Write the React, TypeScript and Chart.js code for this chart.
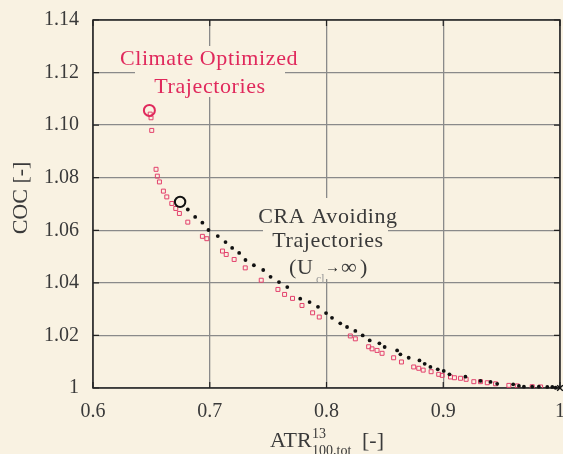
import React, { useEffect, useRef } from 'react';
import { Chart, registerables } from 'chart.js';

Chart.register(...registerables);

// ---------- data ----------
const xTickValues = [0.6, 0.7, 0.8, 0.9, 1];
const yTickValues = [1, 1.02, 1.04, 1.06, 1.08, 1.1, 1.12, 1.14];

// Climate optimized trajectories (red open squares)
const climateATR = [
  0.649, 0.6497, 0.6503, 0.654, 0.6551, 0.6569, 0.6603, 0.6632, 0.6675, 0.6709, 0.674,
  0.6812, 0.6937, 0.6975, 0.7109, 0.7141, 0.7209, 0.7304, 0.7441, 0.7584, 0.7641, 0.7709,
  0.779, 0.7881, 0.7938, 0.8204, 0.8247, 0.8361, 0.839, 0.8433, 0.8476, 0.8575, 0.8642,
  0.8747, 0.879, 0.8828, 0.8896, 0.8961, 0.8991, 0.9062, 0.9096, 0.9148, 0.9196, 0.9262,
  0.9319, 0.9377, 0.9448, 0.9562, 0.9634, 0.9762, 0.9834,
];
const climateCOC = [
  1.1042, 1.1028, 1.098, 1.0832, 1.0806, 1.0784, 1.0749, 1.0727, 1.0702, 1.0683, 1.0664,
  1.0631, 1.0577, 1.0568, 1.0521, 1.0508, 1.0489, 1.0457, 1.041, 1.0375, 1.0356, 1.0341,
  1.0314, 1.0286, 1.027, 1.0198, 1.0187, 1.0157, 1.0149, 1.0143, 1.0132, 1.0115, 1.0099,
  1.008, 1.0075, 1.0068, 1.0062, 1.0052, 1.0048, 1.0042, 1.0039, 1.0037, 1.0033, 1.0024,
  1.0024, 1.002, 1.0016, 1.001, 1.0008, 1.0005, 1.0004,
];

// CRA avoiding trajectories (black dots)
const craATR = [
  0.6812, 0.6875, 0.6937, 0.6989, 0.7069, 0.7135, 0.7192, 0.7252, 0.7306, 0.7378, 0.7458,
  0.7521, 0.7593, 0.7664, 0.7775, 0.7855, 0.7927, 0.7996, 0.8047, 0.8118, 0.8176, 0.8247,
  0.831, 0.837, 0.8453, 0.8498, 0.8605, 0.8633, 0.8704, 0.8796, 0.8841, 0.889, 0.8953,
  0.9004, 0.9053, 0.919, 0.9319, 0.9405, 0.9462, 0.9599, 0.9648, 0.9691, 0.9762, 0.9819,
  0.9891, 0.9934, 0.9962,
];
const craCOC = [
  1.0679, 1.0651, 1.0629, 1.0601, 1.0578, 1.0555, 1.0533, 1.0514, 1.0487, 1.0467, 1.0449,
  1.0423, 1.0403, 1.0384, 1.034, 1.0327, 1.0309, 1.0285, 1.0267, 1.0246, 1.0232, 1.0217,
  1.02, 1.0181, 1.017, 1.0156, 1.0143, 1.0128, 1.0115, 1.0105, 1.0092, 1.008, 1.0071,
  1.0065, 1.0052, 1.0043, 1.0027, 1.0023, 1.0016, 1.0014, 1.0008, 1.0005, 1.0005, 1.0005,
  1.0004, 1.0004, 1.0001,
];

const climateOptATR = [0.6483];
const climateOptCOC = [1.1056];
const craStartATR = [0.6746];
const craStartCOC = [1.0708];
const referenceATR = [1];
const referenceCOC = [1];

// ---------- styles ----------
const BG = '#f9f2e2';
const RED = '#e0295c';
const RED_PT = '#e3406c';
const GRID = '#8a8a8a';
const TEXT = '#3a3a3a';
const SERIF = '"Liberation Serif", "DejaVu Serif", serif';

const toPoints = (xs: number[], ys: number[]) => xs.map((x, i) => ({ x, y: ys[i] }));

const fmtX = (v: number) => (Math.abs(v - 1) < 1e-9 ? '1' : Number(v).toFixed(1));
const fmtY = (v: number) => (Math.abs(v - 1) < 1e-9 ? '1' : Number(v).toFixed(2));

const bgPlugin = {
  id: 'bgFill',
  beforeDraw(chart: any) {
    const { ctx, width, height } = chart;
    ctx.save();
    ctx.fillStyle = BG;
    ctx.fillRect(0, 0, width, height);
    ctx.restore();
  },
};

const annotPlugin = {
  id: 'annot',
  beforeDatasetsDraw(chart: any) {
    const { ctx, chartArea: ca, scales } = chart;
    const xs = scales.x;
    const ys = scales.y;
    ctx.save();
    // label backgrounds (hide grid lines behind the text)
    ctx.fillStyle = BG;
    ctx.fillRect(135, 46, 150, 51);
    ctx.fillRect(263, 198, 125, 81);

    // frame
    ctx.strokeStyle = '#222';
    ctx.lineWidth = 1.5;
    ctx.strokeRect(ca.left, ca.top, ca.right - ca.left, ca.bottom - ca.top);
    // inner tick marks
    ctx.lineWidth = 1.2;
    ctx.beginPath();
    xTickValues.forEach((v) => {
      const px = xs.getPixelForValue(v);
      ctx.moveTo(px, ca.bottom);
      ctx.lineTo(px, ca.bottom - 6);
      ctx.moveTo(px, ca.top);
      ctx.lineTo(px, ca.top + 6);
    });
    yTickValues.forEach((v) => {
      const py = ys.getPixelForValue(v);
      ctx.moveTo(ca.left, py);
      ctx.lineTo(ca.left + 6, py);
      ctx.moveTo(ca.right, py);
      ctx.lineTo(ca.right - 6, py);
    });
    ctx.stroke();

    // annotation texts
    ctx.textAlign = 'center';
    ctx.textBaseline = 'alphabetic';
    ctx.font = `22px ${SERIF}`;
    (ctx as any).letterSpacing = '0.6px';
    ctx.fillStyle = RED;
    ctx.fillText('Climate Optimized', 209, 65);
    ctx.fillText('Trajectories', 210, 93);

    ctx.fillStyle = TEXT;
    ctx.fillText('CRA Avoiding', 328, 223);
    ctx.fillText('Trajectories', 328, 247);
    (ctx as any).letterSpacing = '0px';
    ctx.textAlign = 'left';
    ctx.font = `22px ${SERIF}`;
    ctx.fillText('(', 289, 274);
    ctx.fillText('U', 297, 274);
    ctx.font = `12px ${SERIF}`;
    ctx.fillStyle = '#9a9a9a';
    ctx.fillText('cl', 316, 283);
    ctx.fillStyle = '#222';
    ctx.font = `bold 15px ${SERIF}`;
    ctx.textBaseline = 'middle';
    ctx.fillText('\u2192', 325, 268);
    ctx.fillStyle = TEXT;
    ctx.textBaseline = 'alphabetic';
    ctx.font = `22px ${SERIF}`;
    ctx.fillText('\u221E', 341, 274);
    ctx.fillText(')', 360, 274);
    ctx.restore();
  },
  afterDraw(chart: any) {
    const { ctx } = chart;
    ctx.save();
    ctx.fillStyle = TEXT;
    ctx.textBaseline = 'alphabetic';
    ctx.textAlign = 'left';
    // x axis title: ATR^{13}_{100,tot} [-]
    ctx.font = `22px ${SERIF}`;
    ctx.fillText('ATR', 270, 447);
    ctx.font = `14px ${SERIF}`;
    ctx.fillText('13', 312, 438);
    ctx.fillText('100,tot', 312, 455);
    ctx.font = `22px ${SERIF}`;
    ctx.fillText('[-]', 362, 447);
    // y axis title
    ctx.translate(21, 198);
    ctx.rotate(-Math.PI / 2);
    ctx.textAlign = 'center';
    ctx.textBaseline = 'middle';
    ctx.font = `22px ${SERIF}`;
    ctx.fillText('COC [-]', 0, 0);
    ctx.restore();
  },
};

export default function App() {
  const ref = useRef<HTMLCanvasElement | null>(null);

  useEffect(() => {
    if (!ref.current) return;
    const chart = new Chart(ref.current, {
      type: 'scatter',
      data: {
        datasets: [
          {
            label: 'Climate optimum',
            data: toPoints(climateOptATR, climateOptCOC),
            pointStyle: 'circle',
            pointRadius: 5.5,
            borderWidth: 2,
            borderColor: RED,
            backgroundColor: 'rgba(0,0,0,0)',
          },
          {
            label: 'CRA start',
            data: toPoints(craStartATR, craStartCOC),
            pointStyle: 'circle',
            pointRadius: 5.2,
            borderWidth: 2,
            borderColor: '#111',
            backgroundColor: 'rgba(0,0,0,0)',
          },
          {
            label: 'Reference',
            data: toPoints(referenceATR, referenceCOC),
            pointStyle: 'crossRot',
            pointRadius: 4,
            borderWidth: 1.5,
            borderColor: '#111',
            clip: false as any,
          },
          {
            label: 'CRA avoiding',
            data: toPoints(craATR, craCOC),
            pointStyle: 'circle',
            pointRadius: 1.9,
            borderWidth: 0,
            backgroundColor: '#111',
            clip: false as any,
          },
          {
            label: 'Climate optimized',
            data: toPoints(climateATR, climateCOC),
            pointStyle: 'rect',
            pointRadius: 2.8,
            borderWidth: 1,
            borderColor: RED_PT,
            backgroundColor: 'rgba(0,0,0,0)',
          },
        ],
      },
      options: {
        animation: false,
        responsive: false,
        maintainAspectRatio: false,
        layout: { autoPadding: false, padding: { top: 20, right: 3, left: 0, bottom: 0 } },
        plugins: {
          legend: { display: false },
          tooltip: { enabled: false },
        },
        scales: {
          x: {
            type: 'linear',
            min: 0.6,
            max: 1,
            afterBuildTicks: (s: any) => {
              s.ticks = xTickValues.map((v) => ({ value: v }));
            },
            afterFit: (s: any) => {
              s.height = 66;
              s.paddingLeft = 0;
              s.paddingRight = 0;
            },
            ticks: {
              callback: (v: any) => fmtX(Number(v)),
              font: { family: SERIF, size: 20 },
              color: TEXT,
              padding: 12,
              maxRotation: 0,
            },
            grid: { color: GRID, lineWidth: 1.3, drawTicks: false },
            border: { display: false },
          },
          y: {
            type: 'linear',
            min: 1,
            max: 1.14,
            afterBuildTicks: (s: any) => {
              s.ticks = yTickValues.map((v) => ({ value: v }));
            },
            afterFit: (s: any) => {
              s.width = 93;
              s.paddingTop = 0;
              s.paddingBottom = 0;
            },
            ticks: {
              callback: (v: any) => fmtY(Number(v)),
              font: { family: SERIF, size: 20 },
              color: TEXT,
              padding: 14,
            },
            grid: { color: GRID, lineWidth: 1.3, drawTicks: false },
            border: { display: false },
          },
        },
      },
      plugins: [bgPlugin, annotPlugin],
    });
    return () => chart.destroy();
  }, []);

  return (
    <div style={{ position: 'absolute', left: 0, top: 0, width: 563, height: 454, background: BG }}>
      <canvas ref={ref} width={563} height={454} style={{ display: 'block', width: 563, height: 454 }} />
    </div>
  );
}
